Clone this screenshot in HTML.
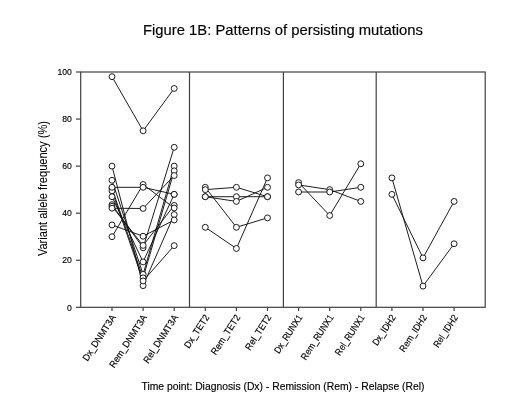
<!DOCTYPE html>
<html lang="en"><head><meta charset="utf-8"><title>Figure 1B: Patterns of persisting mutations</title>
<style>html,body{margin:0;padding:0;background:#fff}body{width:520px;height:420px;overflow:hidden}svg{display:block}</style></head>
<body>
<svg width="520" height="420" viewBox="0 0 520 420" font-family="'Liberation Sans', Arial, sans-serif" fill="#000">
<style>text{stroke:#000;stroke-width:0.15px}.yl{stroke-width:0.05px}</style>
<rect width="520" height="420" fill="#fff"/>
<text x="283" y="34.6" font-size="15" text-anchor="middle" textLength="280" lengthAdjust="spacingAndGlyphs">Figure 1B: Patterns of persisting mutations</text>
<g stroke="#404040" stroke-width="1.2" fill="none">
<rect x="80.7" y="72.0" width="404.5" height="235.3"/>
<line x1="189.5" y1="72.0" x2="189.5" y2="307.3"/>
<line x1="283.4" y1="72.0" x2="283.4" y2="307.3"/>
<line x1="376.2" y1="72.0" x2="376.2" y2="307.3"/>
<line x1="76.0" y1="307.30" x2="80.7" y2="307.30"/>
<line x1="76.0" y1="260.24" x2="80.7" y2="260.24"/>
<line x1="76.0" y1="213.18" x2="80.7" y2="213.18"/>
<line x1="76.0" y1="166.12" x2="80.7" y2="166.12"/>
<line x1="76.0" y1="119.06" x2="80.7" y2="119.06"/>
<line x1="76.0" y1="72.00" x2="80.7" y2="72.00"/>
<line x1="112.0" y1="307.3" x2="112.0" y2="310.90000000000003"/>
<line x1="143.10000000000002" y1="307.3" x2="143.10000000000002" y2="310.90000000000003"/>
<line x1="174.20000000000002" y1="307.3" x2="174.20000000000002" y2="310.90000000000003"/>
<line x1="205.3" y1="307.3" x2="205.3" y2="310.90000000000003"/>
<line x1="236.4" y1="307.3" x2="236.4" y2="310.90000000000003"/>
<line x1="267.5" y1="307.3" x2="267.5" y2="310.90000000000003"/>
<line x1="298.6" y1="307.3" x2="298.6" y2="310.90000000000003"/>
<line x1="329.70000000000005" y1="307.3" x2="329.70000000000005" y2="310.90000000000003"/>
<line x1="360.80000000000007" y1="307.3" x2="360.80000000000007" y2="310.90000000000003"/>
<line x1="391.9" y1="307.3" x2="391.9" y2="310.90000000000003"/>
<line x1="423.0" y1="307.3" x2="423.0" y2="310.90000000000003"/>
<line x1="454.1" y1="307.3" x2="454.1" y2="310.90000000000003"/>
</g>
<g font-size="9.4" text-anchor="end">
<text transform="translate(71.9,310.50) scale(0.92,1)">0</text>
<text transform="translate(71.9,263.44) scale(0.92,1)">20</text>
<text transform="translate(71.9,216.38) scale(0.92,1)">40</text>
<text transform="translate(71.9,169.32) scale(0.92,1)">60</text>
<text transform="translate(71.9,122.26) scale(0.92,1)">80</text>
<text transform="translate(71.9,75.20) scale(0.92,1)">100</text>
</g>
<g font-size="9" text-anchor="end">
<text transform="translate(116.3,317.3) rotate(-57) scale(0.95,1)" font-size="9.5">Dx_DNMT3A</text>
<text transform="translate(147.4,317.3) rotate(-57) scale(0.95,1)" font-size="9.5">Rem_DNMT3A</text>
<text transform="translate(178.5,317.3) rotate(-57) scale(0.95,1)" font-size="9.5">Rel_DNMT3A</text>
<text transform="translate(209.6,317.3) rotate(-57) scale(0.94,1)" font-size="9.5">Dx_TET2</text>
<text transform="translate(240.7,317.3) rotate(-57) scale(0.94,1)" font-size="9.5">Rem_TET2</text>
<text transform="translate(271.8,317.3) rotate(-57) scale(0.94,1)" font-size="9.5">Rel_TET2</text>
<text transform="translate(302.9,317.3) rotate(-57) scale(0.9,1)" font-size="9.5">Dx_RUNX1</text>
<text transform="translate(334.0,317.3) rotate(-57) scale(0.9,1)" font-size="9.5">Rem_RUNX1</text>
<text transform="translate(365.1,317.3) rotate(-57) scale(0.9,1)" font-size="9.5">Rel_RUNX1</text>
<text transform="translate(396.2,317.3) rotate(-57) scale(0.9,1)" font-size="9.5">Dx_IDH2</text>
<text transform="translate(427.3,317.3) rotate(-57) scale(0.9,1)" font-size="9.5">Rem_IDH2</text>
<text transform="translate(458.4,317.3) rotate(-57) scale(0.9,1)" font-size="9.5">Rel_IDH2</text>
</g>
<text class="yl" transform="translate(46.9,188.6) rotate(-90) scale(1,1.14)" font-size="11.2" text-anchor="middle" textLength="135" lengthAdjust="spacingAndGlyphs">Variant allele frequency (%)</text>
<text x="283" y="389.6" font-size="10.9" text-anchor="middle" textLength="283" lengthAdjust="spacingAndGlyphs">Time point: Diagnosis (Dx) - Remission (Rem) - Relapse (Rel)</text>
<g stroke="#111" stroke-width="0.95" fill="none">
<polyline points="112.0,76.71 143.10000000000002,130.83 174.20000000000002,88.47"/>
<polyline points="112.0,166.12 143.10000000000002,285.65 174.20000000000002,214.59"/>
<polyline points="112.0,180.24 143.10000000000002,274.36 174.20000000000002,166.12"/>
<polyline points="112.0,188.71 143.10000000000002,277.89 174.20000000000002,170.83"/>
<polyline points="112.0,190.83 143.10000000000002,280.95 174.20000000000002,245.65"/>
<polyline points="112.0,196.71 143.10000000000002,261.89 174.20000000000002,194.36"/>
<polyline points="112.0,204.71 143.10000000000002,247.77 174.20000000000002,147.30"/>
<polyline points="112.0,206.36 143.10000000000002,245.42 174.20000000000002,205.42"/>
<polyline points="112.0,224.94 143.10000000000002,236.24 174.20000000000002,220.00"/>
<polyline points="112.0,236.71 143.10000000000002,184.47 174.20000000000002,208.00"/>
<polyline points="112.0,208.24 143.10000000000002,208.47 174.20000000000002,175.53"/>
<polyline points="112.0,187.30 143.10000000000002,187.30 174.20000000000002,194.36"/>
<polyline points="205.3,187.30 236.4,227.30 267.5,217.89"/>
<polyline points="205.3,189.65 236.4,187.30 267.5,196.71"/>
<polyline points="205.3,196.71 236.4,196.71 267.5,196.71"/>
<polyline points="205.3,196.71 236.4,201.42 267.5,187.30"/>
<polyline points="205.3,227.30 236.4,248.48 267.5,177.89"/>
<polyline points="298.6,182.59 329.70000000000005,215.53 360.80000000000007,163.77"/>
<polyline points="298.6,184.94 329.70000000000005,189.65 360.80000000000007,201.42"/>
<polyline points="298.6,192.00 329.70000000000005,192.00 360.80000000000007,187.30"/>
<polyline points="391.9,177.89 423.0,286.12 454.1,243.77"/>
<polyline points="391.9,194.36 423.0,257.89 454.1,201.42"/>
</g>
<g stroke="#111" stroke-width="0.95" fill="#fff">
<circle cx="112.0" cy="76.71" r="2.95"/>
<circle cx="143.10000000000002" cy="130.83" r="2.95"/>
<circle cx="174.20000000000002" cy="88.47" r="2.95"/>
<circle cx="112.0" cy="166.12" r="2.95"/>
<circle cx="143.10000000000002" cy="285.65" r="2.95"/>
<circle cx="174.20000000000002" cy="214.59" r="2.95"/>
<circle cx="112.0" cy="180.24" r="2.95"/>
<circle cx="143.10000000000002" cy="274.36" r="2.95"/>
<circle cx="174.20000000000002" cy="166.12" r="2.95"/>
<circle cx="112.0" cy="188.71" r="2.95"/>
<circle cx="143.10000000000002" cy="277.89" r="2.95"/>
<circle cx="174.20000000000002" cy="170.83" r="2.95"/>
<circle cx="112.0" cy="190.83" r="2.95"/>
<circle cx="143.10000000000002" cy="280.95" r="2.95"/>
<circle cx="174.20000000000002" cy="245.65" r="2.95"/>
<circle cx="112.0" cy="196.71" r="2.95"/>
<circle cx="143.10000000000002" cy="261.89" r="2.95"/>
<circle cx="174.20000000000002" cy="194.36" r="2.95"/>
<circle cx="112.0" cy="204.71" r="2.95"/>
<circle cx="143.10000000000002" cy="247.77" r="2.95"/>
<circle cx="174.20000000000002" cy="147.30" r="2.95"/>
<circle cx="112.0" cy="206.36" r="2.95"/>
<circle cx="143.10000000000002" cy="245.42" r="2.95"/>
<circle cx="174.20000000000002" cy="205.42" r="2.95"/>
<circle cx="112.0" cy="224.94" r="2.95"/>
<circle cx="143.10000000000002" cy="236.24" r="2.95"/>
<circle cx="174.20000000000002" cy="220.00" r="2.95"/>
<circle cx="112.0" cy="236.71" r="2.95"/>
<circle cx="143.10000000000002" cy="184.47" r="2.95"/>
<circle cx="174.20000000000002" cy="208.00" r="2.95"/>
<circle cx="112.0" cy="208.24" r="2.95"/>
<circle cx="143.10000000000002" cy="208.47" r="2.95"/>
<circle cx="174.20000000000002" cy="175.53" r="2.95"/>
<circle cx="112.0" cy="187.30" r="2.95"/>
<circle cx="143.10000000000002" cy="187.30" r="2.95"/>
<circle cx="174.20000000000002" cy="194.36" r="2.95"/>
<circle cx="205.3" cy="187.30" r="2.95"/>
<circle cx="236.4" cy="227.30" r="2.95"/>
<circle cx="267.5" cy="217.89" r="2.95"/>
<circle cx="205.3" cy="189.65" r="2.95"/>
<circle cx="236.4" cy="187.30" r="2.95"/>
<circle cx="267.5" cy="196.71" r="2.95"/>
<circle cx="205.3" cy="196.71" r="2.95"/>
<circle cx="236.4" cy="196.71" r="2.95"/>
<circle cx="267.5" cy="196.71" r="2.95"/>
<circle cx="205.3" cy="196.71" r="2.95"/>
<circle cx="236.4" cy="201.42" r="2.95"/>
<circle cx="267.5" cy="187.30" r="2.95"/>
<circle cx="205.3" cy="227.30" r="2.95"/>
<circle cx="236.4" cy="248.48" r="2.95"/>
<circle cx="267.5" cy="177.89" r="2.95"/>
<circle cx="298.6" cy="182.59" r="2.95"/>
<circle cx="329.70000000000005" cy="215.53" r="2.95"/>
<circle cx="360.80000000000007" cy="163.77" r="2.95"/>
<circle cx="298.6" cy="184.94" r="2.95"/>
<circle cx="329.70000000000005" cy="189.65" r="2.95"/>
<circle cx="360.80000000000007" cy="201.42" r="2.95"/>
<circle cx="298.6" cy="192.00" r="2.95"/>
<circle cx="329.70000000000005" cy="192.00" r="2.95"/>
<circle cx="360.80000000000007" cy="187.30" r="2.95"/>
<circle cx="391.9" cy="177.89" r="2.95"/>
<circle cx="423.0" cy="286.12" r="2.95"/>
<circle cx="454.1" cy="243.77" r="2.95"/>
<circle cx="391.9" cy="194.36" r="2.95"/>
<circle cx="423.0" cy="257.89" r="2.95"/>
<circle cx="454.1" cy="201.42" r="2.95"/>
</g>
</svg>
</body></html>
